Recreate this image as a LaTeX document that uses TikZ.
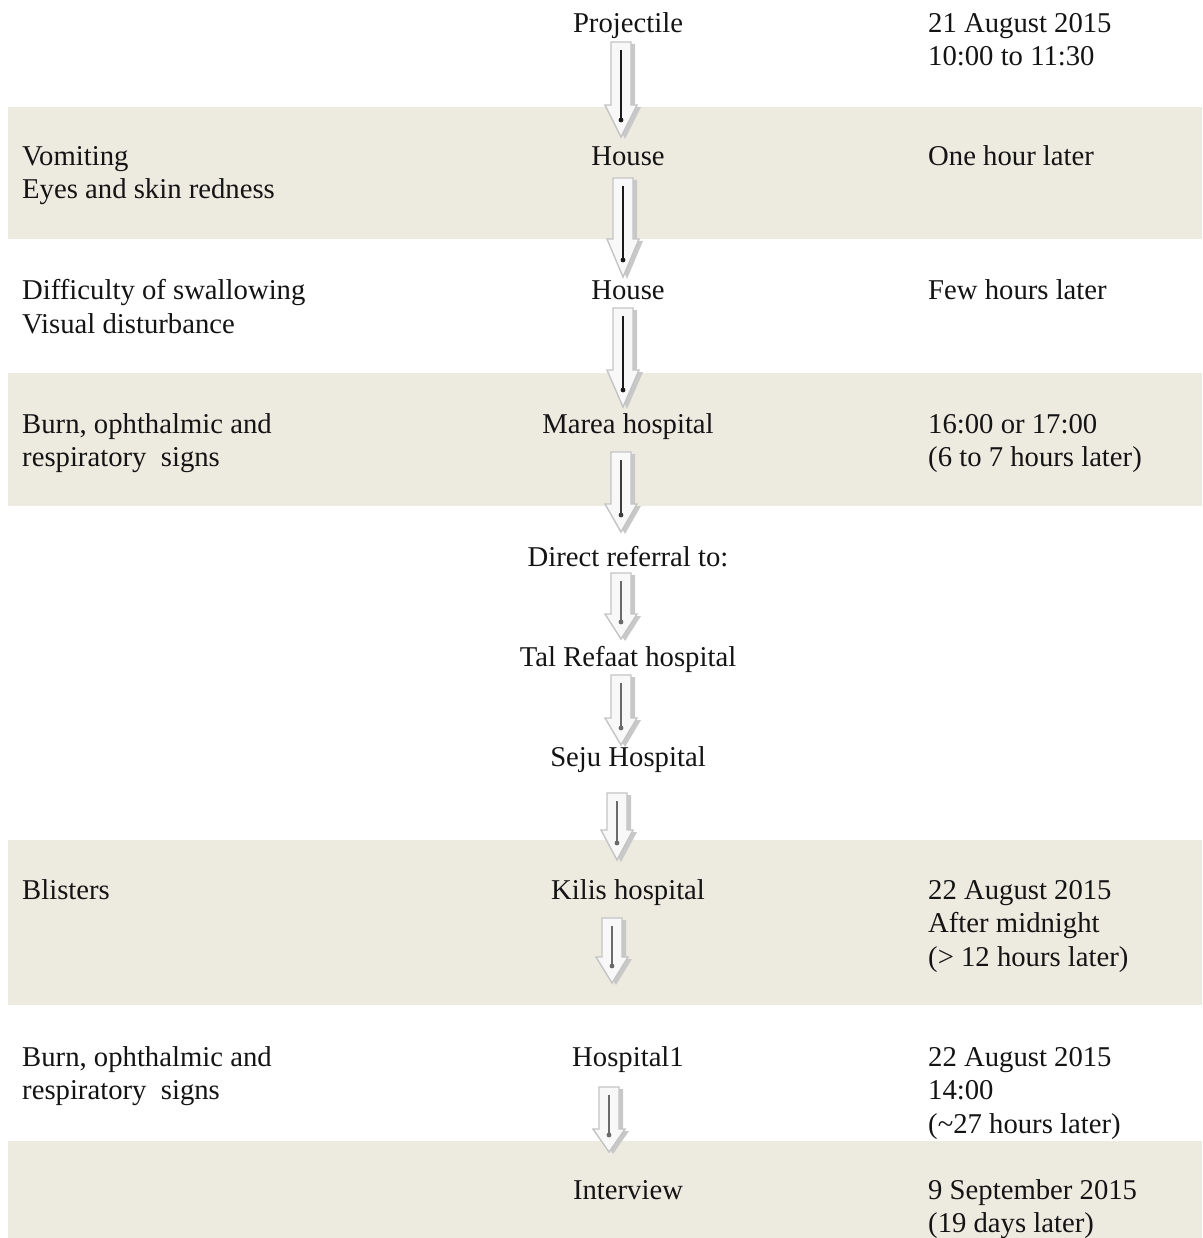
\documentclass[tikz,border=0pt]{standalone}
\usepackage{fontspec}
\setmainfont{Liberation Serif}
\usetikzlibrary{calc}
\definecolor{bandcol}{HTML}{EDEAE0}
\definecolor{arline}{HTML}{C4C4C4}
\definecolor{arfill}{HTML}{F8F8F8}
\definecolor{arshad}{HTML}{C8C8C8}
\definecolor{innerdark}{HTML}{1A1A1A}
\definecolor{innermid}{HTML}{3C3C3C}
\definecolor{innerlight}{HTML}{6A6A6A}
\newcommand\blockarrow[4]{%
 \path[arshadow] ($(#1)+(-6,2)$) -- ($(#1)+(14,2)$) -- ($(#2)+(14,2-#3)$) -- ($(#2)+(20,2-#3)$) -- ($(#2)+(4,2)$) -- ($(#2)+(-12,2-#3)$) -- ($(#2)+(-6,2-#3)$) -- cycle;
 \path[arbody] ($(#1)+(-10,0)$) -- ($(#1)+(10,0)$) -- ($(#2)+(10,-#3)$) -- ($(#2)+(16,-#3)$) -- (#2) -- ($(#2)+(-16,-#3)$) -- ($(#2)+(-10,-#3)$) -- cycle;
 \draw[#4, line width=1.6pt] ($(#1)+(0,8)$) -- ($(#2)+(0,-17)$);
 \fill[#4] ($(#2)+(0,-17)$) circle (2.4);
}
\begin{document}
\begin{tikzpicture}[x=1pt,y=-1pt,
  txt/.style={inner sep=0pt, font=\fontsize{28.7}{33}\selectfont, text=black!92},
  lft/.style={txt, anchor=base west},
  mid/.style={txt, anchor=base},
  rgt/.style={txt, anchor=base west},
  band/.style={fill=bandcol},
  arshadow/.style={fill=arshad},
  arbody/.style={fill=arfill, draw=arline, line width=1.4pt, line join=miter}]
\useasboundingbox (0,0) rectangle (1202,1238);
\fill[white] (0,0) rectangle (1202,1238);
% bands
\path[band] (8,107) rectangle (1202,239);
\path[band] (8,373) rectangle (1202,506);
\path[band] (8,840) rectangle (1202,1005);
\path[band] (8,1141) rectangle (1202,1238);

% centre column
\node[mid] (proj) at (628,33) {Projectile};
\node[mid] (house1) at (628,166) {House};
\node[mid] (house2) at (628,300) {House};
\node[mid] (marea) at (628,433) {Marea hospital};
\node[mid] (direct) at (628,566) {Direct referral to:};
\node[mid] (tal) at (628,666) {Tal Refaat hospital};
\node[mid] (seju) at (628,766) {Seju Hospital};
\node[mid] (kilis) at (628,899) {Kilis hospital};
\node[mid] (hosp1) at (628,1066) {Hospital1};
\node[mid] (interview) at (628,1199) {Interview};

% left column
\node[lft] (l1a) at (22,166) {Vomiting};
\node[lft] (l1b) at (22,199) {Eyes and skin redness};
\node[lft] (l2a) at (22,300) {Difficulty of swallowing};
\node[lft] (l2b) at (22,333) {Visual disturbance};
\node[lft] (l3a) at (22,433) {Burn, ophthalmic and};
\node[lft] (l3b) at (22,466) {respiratory\ \ signs};
\node[lft] (l4a) at (22,899) {Blisters};
\node[lft] (l5a) at (22,1066) {Burn, ophthalmic and};
\node[lft] (l5b) at (22,1099) {respiratory\ \ signs};

% right column
\node[rgt] (r0a) at (928,33) {21 August 2015};
\node[rgt] (r0b) at (928,66) {10:00 to 11:30};
\node[rgt] (r1a) at (928,166) {One hour later};
\node[rgt] (r2a) at (928,300) {Few hours later};
\node[rgt] (r3a) at (928,433) {16:00 or 17:00};
\node[rgt] (r3b) at (928,466) {(6 to 7 hours later)};
\node[rgt] (r4a) at (928,899) {22 August 2015};
\node[rgt] (r4b) at (928,932) {After midnight};
\node[rgt] (r4c) at (928,966) {(> 12 hours later)};
\node[rgt] (r5a) at (928,1066) {22 August 2015};
\node[rgt] (r5b) at (928,1099) {14:00};
\node[rgt] (r5c) at (928,1133) {(\textasciitilde27 hours later)};
\node[rgt] (r6a) at (928,1199) {9 September 2015};
\node[rgt] (r6b) at (928,1232) {(19 days later)};

% connector ends
\coordinate (a1s) at (621,42);   \coordinate (a1e) at (621,137);
\coordinate (a2s) at (623,178);  \coordinate (a2e) at (623,277);
\coordinate (a3s) at (623,308);  \coordinate (a3e) at (623,407);
\coordinate (a4s) at (621,452);  \coordinate (a4e) at (621,532);
\coordinate (a5s) at (621,573);  \coordinate (a5e) at (621,639);
\coordinate (a6s) at (621,675);  \coordinate (a6e) at (621,745);
\coordinate (a7s) at (617,793);  \coordinate (a7e) at (617,860);
\coordinate (a8s) at (612,918);  \coordinate (a8e) at (612,983);
\coordinate (a9s) at (609,1087); \coordinate (a9e) at (609,1152);

\blockarrow{a1s}{a1e}{32}{innerdark}
\blockarrow{a2s}{a2e}{38}{innerdark}
\blockarrow{a3s}{a3e}{37}{innerdark}
\blockarrow{a4s}{a4e}{28}{innermid}
\blockarrow{a5s}{a5e}{25}{innerlight}
\blockarrow{a6s}{a6e}{27}{innerlight}
\blockarrow{a7s}{a7e}{30}{innerlight}
\blockarrow{a8s}{a8e}{26}{innerlight}
\blockarrow{a9s}{a9e}{23}{innerlight}
\end{tikzpicture}
\end{document}
